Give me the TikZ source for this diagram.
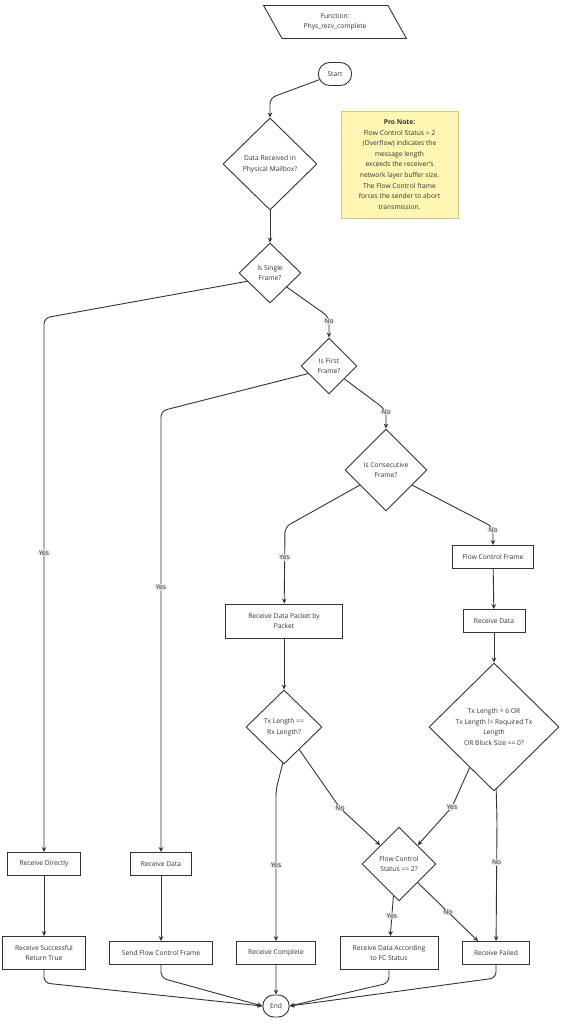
\documentclass[tikz,border=0pt]{standalone}
\usepackage{fontspec}
\setmainfont{Open Sans}
\usetikzlibrary{shapes.geometric,shapes.misc,arrows.meta}
\definecolor{ink}{HTML}{333333}
\definecolor{notefill}{HTML}{FFF6B3}
\definecolor{noteline}{HTML}{DCC878}
\definecolor{lblfill}{HTML}{E2E2E2}
\begin{document}
\begin{tikzpicture}[x=1pt,y=-1pt,
        every node/.style={font=\fontsize{6.7}{10.6}\selectfont, text=ink},
        box/.style={draw=ink, line width=0.9pt, rectangle, align=center, inner sep=1pt},
        dec/.style={draw=ink, line width=0.9pt, diamond, align=center, inner sep=0pt},
        term/.style={draw=ink, line width=0.9pt, rounded rectangle, minimum width=40, minimum height=23},
        lbl/.style={fill=lblfill, inner sep=1pt},
        arr/.style={draw=ink, line width=0.9pt, -{Stealth[length=5pt,width=4.5pt]}, rounded corners=6pt}]
    \useasboundingbox (0,0) rectangle (564,1024);
    %% header and start
    \node[draw=ink, line width=0.9pt, trapezium, trapezium left angle=117, trapezium right angle=63,
        trapezium stretches=true, minimum width=144, minimum height=33, align=center] (fn) at (335,22)
        {Function:\\Phys\_recv\_complete};
    \node[term] (start) at (335,74) {Start};
    %% note
    \node[draw=noteline, fill=notefill, line width=0.9pt, minimum width=117, minimum height=107, align=center] (note) at (399.5,164.5)
        {\textbf{Pro Note:}\\Flow Control Status = 2\\(Overflow) indicates the\\message length\\exceeds the receiver's\\network layer buffer size.\\The Flow Control frame\\forces the sender to abort\\transmission.};
    %% decisions
    \node[dec, minimum width=94, minimum height=92] (d1) at (270,164) {Data Received in\\Physical Mailbox?};
    \node[dec, minimum width=62, minimum height=60] (d2) at (270,273) {Is Single\\Frame?};
    \node[dec, minimum width=56, minimum height=56] (d3) at (329,366) {Is First\\Frame?};
    \node[dec, minimum width=82, minimum height=82] (d4) at (386,470) {Is Consecutive\\Frame?};
    \node[dec, minimum width=76, minimum height=74] (d5) at (284,727) {Tx Length ==\\Rx Length?};
    \node[dec, minimum width=130, minimum height=128] (d6) at (494,727) {Tx Length > 6 OR\\Tx Length != Required Tx\\Length\\OR Block Size == 0?};
    \node[dec, minimum width=74, minimum height=74] (fcs) at (399,864) {Flow Control\\Status == 2?};
    %% process boxes
    \node[box, minimum width=81, minimum height=23] (fcf) at (493,557) {Flow Control Frame};
    \node[box, minimum width=62, minimum height=23] (rdr) at (494,621) {Receive Data};
    \node[box, minimum width=117, minimum height=34] (rdp) at (284,621) {Receive Data Packet by\\Packet};
    \node[box, minimum width=73, minimum height=23] (rdir) at (44,864) {Receive Directly};
    \node[box, minimum width=61, minimum height=23] (rdl) at (161,864) {Receive Data};
    \node[box, minimum width=83, minimum height=33] (rsrt) at (44,953) {Receive Successful\\Return True};
    \node[box, minimum width=103, minimum height=23] (sfcf) at (161,953) {Send Flow Control Frame};
    \node[box, minimum width=79, minimum height=23] (rcomp) at (276,953) {Receive Complete};
    \node[box, minimum width=98, minimum height=33] (rdafs) at (389,953) {Receive Data According\\to FC Status};
    \node[box, minimum width=67, minimum height=23] (rfail) at (496,953) {Receive Failed};
    \node[term, minimum width=33, minimum height=22] (stop) at (276,1006) {End};
    %% bends
    \coordinate (k0) at (270,98);
    \coordinate (k1) at (44,318);
    \coordinate (k2) at (329,317);
    \coordinate (k3) at (161,411);
    \coordinate (k4) at (386,410);
    \coordinate (k5) at (285,527);
    \coordinate (k6) at (493,527);
    \coordinate (k7) at (276,790);
    \coordinate (k8) at (497,820);
    %% straight arrows
    \foreach \a/\b in {d1/d2,fcf/rdr,rdr/d6,rdp/d5,rdir/rsrt,rdl/sfcf,rcomp/stop}
        \draw[arr] (\a) -- (\b);
    %% branches
    \draw[arr] (start.200) -- (k0) -- (d1);
    \draw[arr] (d2.200) -- (k1) -- node[lbl, pos=0.44] {Yes} (rdir);
    \draw[arr] (d2.-40) -- (k2) -- node[lbl, pos=0.2] {No} (d3);
    \draw[arr] (d3.200) -- (k3) -- node[lbl, pos=0.4] {Yes} (rdl);
    \draw[arr] (d3.-40) -- (k4) -- node[lbl, pos=0.1] {No} (d4);
    \draw[arr] (d4.210) -- (k5) -- node[lbl, pos=0.4] {Yes} (rdp);
    \draw[arr] (d4.-30) -- (k6) -- node[lbl, pos=0.15] {No} (fcf);
    \draw[arr] (d5.-92) -- (k7) -- node[lbl, pos=0.5] {Yes} (rcomp);
    \draw[arr] (d5.-56) -- (340,808) node[lbl] {No} -- (fcs.north west);
    \draw[arr] (d6.239) -- (452,807) node[lbl] {Yes} -- (fcs.north east);
    \draw[arr] (d6.-88) -- (k8) -- node[lbl, pos=0.35] {No} (rfail);
    \draw[arr] (fcs.-100) -- node[lbl] {Yes} (rdafs);
    \draw[arr] (fcs.-45) -- node[lbl] {No} ([xshift=16pt]rfail.north west);
    %% into end
    \foreach \n in {rsrt,sfcf}
        \draw[arr] (\n.south) -- ++(0,13) -- (stop.west);
    \foreach \n in {rdafs,rfail}
        \draw[arr] (\n.south) -- ++(0,13) -- (stop.east);
\end{tikzpicture}
\end{document}
